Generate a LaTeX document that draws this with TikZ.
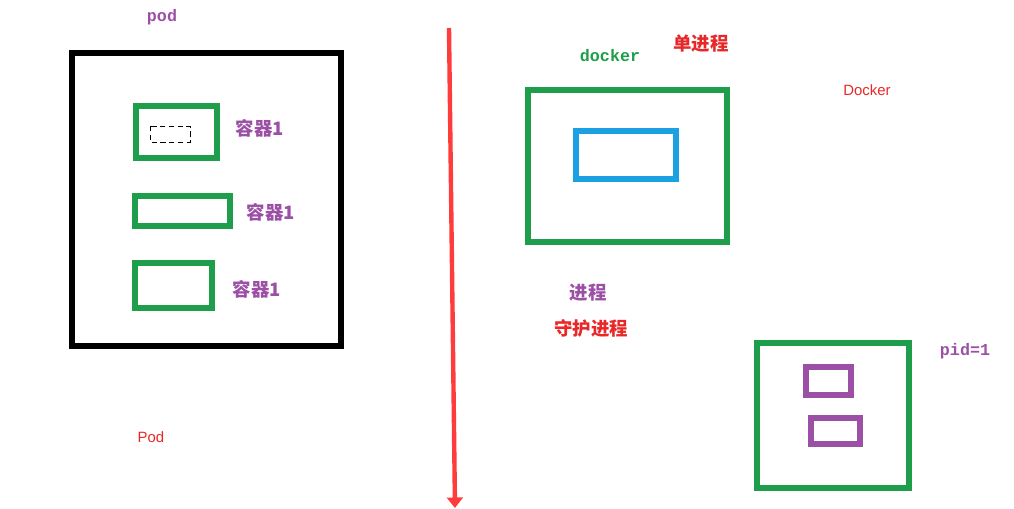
\documentclass[tikz,border=0pt]{standalone}
\usepackage{fontspec}
\usepackage{tikz}
\usetikzlibrary{arrows.meta}
\setmainfont{Liberation Sans}
\newfontfamily\cjk{Noto Sans CJK SC}
\newfontfamily\mono{Liberation Mono}
\definecolor{boxgreen}{RGB}{30,158,74}
\definecolor{boxpurple}{RGB}{155,80,165}
\definecolor{boxblue}{RGB}{27,160,226}
\definecolor{txtred}{RGB}{232,40,40}
\definecolor{arrred}{RGB}{255,60,60}
\tikzset{
  frame/.style={line width=2.9pt},
  cjklabel/.style={font=\cjk\bfseries\fontsize{10.5}{12}\selectfont},
  monolabel/.style={font=\mono\bfseries\fontsize{9.5}{11}\selectfont},
  smalllabel/.style={font=\fontsize{8.5}{10}\selectfont, text=txtred}
}
\begin{document}
\begin{tikzpicture}[x=0.02cm,y=-0.02cm]
        \useasboundingbox (0,0) rectangle (1014,508);
        % pod side
        \node[monolabel, text=boxpurple] (podtop) at (162,17) {pod};
        \draw[frame] (72,53) rectangle (341,346);
        \draw[frame, boxgreen] (136,106) rectangle (217,158);
        \draw[densely dashed, thin] (150,126) rectangle (190,142);
        \draw[frame, boxgreen] (135,196) rectangle (230,226);
        \draw[frame, boxgreen] (135,263) rectangle (212,308);
        \node[cjklabel, text=boxpurple] (c1) at (260,128) {容器1};
        \node[cjklabel, text=boxpurple] (c2) at (271,212) {容器1};
        \node[cjklabel, text=boxpurple] (c3) at (257,289) {容器1};
        \node[smalllabel] (podlow) at (151,437) {Pod};
        % split line
        \coordinate (top) at (449,28);
        \coordinate (bot) at (455,508);
        \draw[arrred, line width=2.5pt, -{Triangle[width=9pt,length=6pt]}] (top) -- (bot);
        % docker side
        \node[monolabel, text=boxgreen] (dock) at (610,56) {docker};
        \node[cjklabel, text=txtred] (single) at (701,44) {单进程};
        \node[smalllabel] (dockname) at (867,90) {Docker};
        \draw[frame, boxgreen] (528,90) rectangle (727,242);
        \draw[frame, boxblue] (576,131) rectangle (676,179);
        \node[cjklabel, text=boxpurple] (proc) at (588,293) {进程};
        \node[cjklabel, text=txtred] (daemon) at (591,328) {守护进程};
        \draw[frame, boxgreen] (757,343) rectangle (909,488);
        \draw[frame, boxpurple] (806,367) rectangle (851,395);
        \draw[frame, boxpurple] (811,418) rectangle (860,444);
        \node[monolabel, text=boxpurple] (pid) at (965,351) {pid=1};
      \end{tikzpicture}
\end{document}
